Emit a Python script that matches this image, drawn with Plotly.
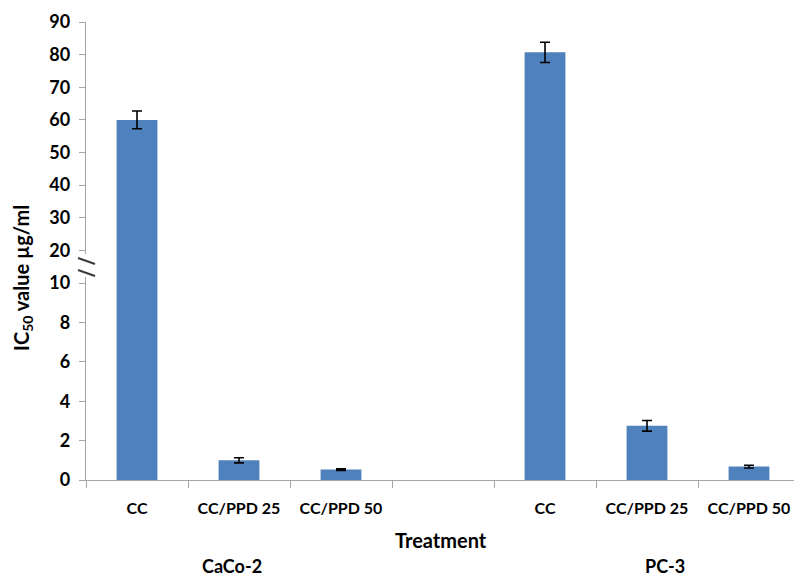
import plotly.graph_objects as go

# ---------------- data ----------------
treatments = ["CC", "CC/PPD 25", "CC/PPD 50"]
cell_lines = ["CaCo-2", "PC-3"]
caco2_ic50 = [60.0, 1.0, 0.53]
caco2_err = [2.7, 0.13, 0.04]
pc3_ic50 = [80.7, 2.75, 0.68]
pc3_err = [3.1, 0.27, 0.07]
y_low_ticks = [0, 2, 4, 6, 8, 10]
y_high_ticks = [20, 30, 40, 50, 60, 70, 80, 90]
BREAK = 10
Y_MAX = 90

# ---------------- layout helpers ----------------
W, H = 794, 577
ML, MR, MT, MB = 86, 0, 22, 97
PW, PH = W - ML - MR, H - MT - MB
AXIS_Y = H - MB          # pixel of y=0
Y10_PX = 283             # pixel where the break value sits
split = (AXIS_Y - Y10_PX) / PH

def px_x(p):
    return (p - ML) / PW

def px_y(p):
    return (AXIS_Y - p) / PH

BAR = "#4F81BD"
GRAY = "#A6A6A6"
FONT = "Lato, Carlito, Calibri, sans-serif"

# positions: group slot of 3 treatments + one empty spacer slot
xs, vals, errs, labels = [], [], [], []
for g, (v, e) in enumerate([(caco2_ic50, caco2_err), (pc3_ic50, pc3_err)]):
    for i, t in enumerate(treatments):
        xs.append(g * (len(treatments) + 1) + i)
        vals.append(v[i])
        errs.append(e[i])
        labels.append(t)

low_err = [e if v <= BREAK else None for v, e in zip(vals, errs)]
high_vals = [v if v > BREAK else None for v in vals]
high_err = [e if v > BREAK else None for v, e in zip(vals, errs)]

fig = go.Figure()
errstyle = dict(type="data", color="black", thickness=1.6, width=5, visible=True)
fig.add_trace(go.Bar(x=xs, y=vals, width=0.4, marker=dict(color=BAR, line=dict(width=0)),
                     error_y=dict(array=low_err, **errstyle), xaxis="x", yaxis="y",
                     showlegend=False, hoverinfo="y"))
fig.add_trace(go.Bar(x=xs, y=high_vals, width=0.4, marker=dict(color=BAR, line=dict(width=0)),
                     error_y=dict(array=high_err, **errstyle), xaxis="x", yaxis="y2",
                     showlegend=False, hoverinfo="y"))

slot_px = 102
xmax = -0.5 + PW / slot_px
n_slots = 2 * (len(treatments) + 1)

axis_common = dict(showline=True, linecolor=GRAY, linewidth=1.3, showgrid=False,
                   zeroline=False, ticks="outside", ticklen=6, tickcolor=GRAY, tickwidth=1.3,
                   tickfont=dict(family=FONT, size=18, color="black", weight="bold"),
                   ticklabelstandoff=5, fixedrange=True)

fig.update_layout(
    width=W, height=H,
    margin=dict(l=ML, r=MR, t=MT, b=MB),
    paper_bgcolor="white", plot_bgcolor="white",
    barmode="overlay",
    xaxis=dict(range=[-0.5, xmax], tickvals=xs, ticktext=labels, ticks="",
               showline=True, linecolor=GRAY, linewidth=1.3, showgrid=False, zeroline=False,
               tickfont=dict(family=FONT, size=16, color="black", weight="bold"),
               ticklabelstandoff=14, anchor="y", fixedrange=True,
               minor=dict(tickvals=[k - 0.5 for k in range(n_slots)], ticks="outside",
                          ticklen=7, tickcolor=GRAY, tickwidth=1.3)),
    yaxis=dict(domain=[0, split], range=[0, BREAK], tickvals=y_low_ticks, anchor="x", **axis_common),
    yaxis2=dict(domain=[split, 1], range=[BREAK, Y_MAX], tickvals=y_high_ticks, anchor="x", **axis_common),
)

# axis break
fig.add_shape(type="rect", xref="paper", yref="paper", x0=px_x(82), x1=px_x(91),
              y0=px_y(277), y1=px_y(254), fillcolor="white", line=dict(width=0), layer="above")
for yy in (258, 270):
    fig.add_shape(type="line", xref="paper", yref="paper", x0=px_x(78), x1=px_x(95),
                  y0=px_y(yy), y1=px_y(yy + 6), line=dict(color="#3A3A3A", width=2), layer="above")

# titles
fig.add_annotation(text="IC<sub>50</sub> value µg/ml", textangle=-90, xref="paper", yref="paper",
                   x=px_x(22), y=px_y(278), showarrow=False, xanchor="center", yanchor="middle",
                   font=dict(family=FONT, size=20, color="black", weight="bold"))
fig.add_annotation(text="Treatment", xref="paper", yref="paper", x=px_x(441), y=px_y(540),
                   showarrow=False, xanchor="center", yanchor="middle",
                   font=dict(family=FONT, size=20, color="black", weight="bold"))
for name, cx in zip(cell_lines, (232, 665)):
    fig.add_annotation(text=name, xref="paper", yref="paper", x=px_x(cx), y=px_y(566),
                       showarrow=False, xanchor="center", yanchor="middle",
                       font=dict(family=FONT, size=18, color="black", weight="bold"))

fig.write_html("out.html")
